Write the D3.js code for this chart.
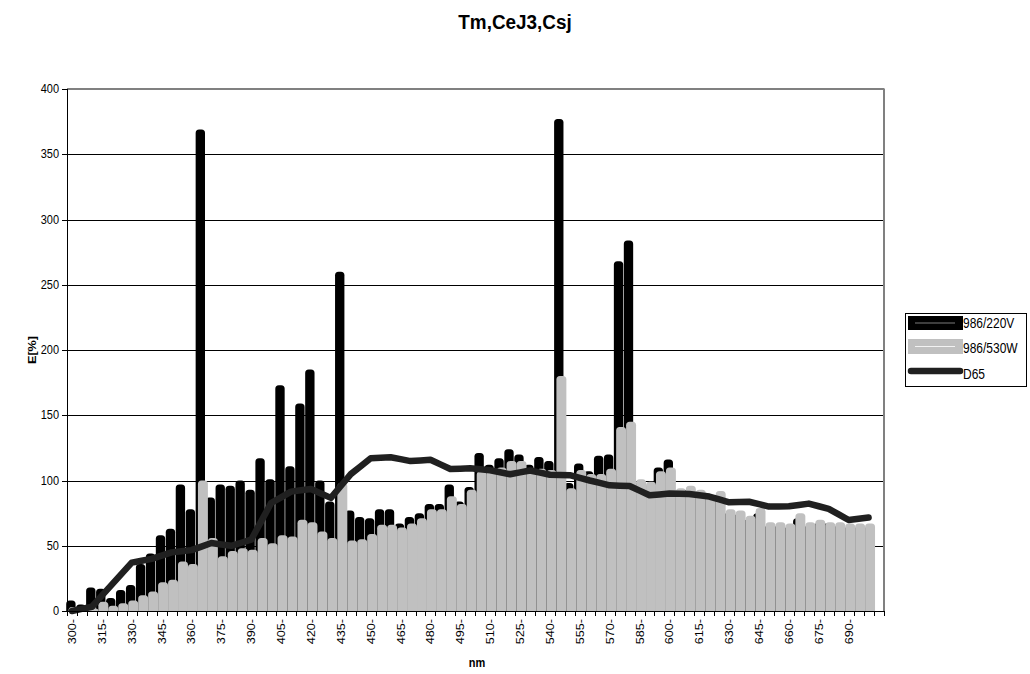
<!DOCTYPE html>
<html>
<head>
<meta charset="utf-8">
<script src="https://cdn.jsdelivr.net/npm/d3@7"></script>
<style>
  body { margin: 0; background: #fff; }
  svg { display: block; }
  text { font-family: "Liberation Sans", Arial, sans-serif; fill: #000; }
</style>
</head>
<body>
<svg id="chart" width="1030" height="674"></svg>
<script>
// Wavelength categories (nm), 5 nm steps; the last slot has no data.
const wavelengths = [300,305,310,315,320,325,330,335,340,345,350,355,360,365,370,375,380,385,390,395,
  400,405,410,415,420,425,430,435,440,445,450,455,460,465,470,475,480,485,490,495,
  500,505,510,515,520,525,530,535,540,545,550,555,560,565,570,575,580,585,590,595,
  600,605,610,615,620,625,630,635,640,645,650,655,660,665,670,675,680,685,690,695,700,705];

// Relative spectral power E[%] of lamp 986 at 220 V
const lamp220 = [8,5,18,17,10,16,20,36,44,58,63,97,78,369,87,97,96,100,93,117,
  101,173,111,159,185,100,84,260,77,72,71,78,78,67,72,75,82,82,97,84,
  95,121,112,117,124,120,112,118,115,377,98,113,107,119,120,268,284,98,96,110,
  116,91,93,90,86,88,75,74,70,75,65,65,64,71,65,67,67,65,64,64,64,null];

// Relative spectral power E[%] of lamp 986 at 530 W
const lamp530 = [3,3,2,7,4,6,8,12,15,22,24,38,36,100,56,42,46,48,47,56,
  52,58,57,70,68,61,56,98,54,55,59,66,66,64,67,71,78,78,88,82,
  93,107,108,110,115,115,109,109,108,180,94,108,105,105,109,141,145,101,99,107,
  110,94,96,93,88,92,78,77,73,79,68,68,67,75,68,70,68,68,67,67,67,null];

// CIE illuminant D65
const d65 = [0.03,1.66,3.29,11.77,20.24,28.64,37.05,38.50,39.95,42.43,44.91,45.78,46.64,49.36,52.09,51.03,49.98,52.31,54.65,68.70,
  82.75,87.12,91.49,92.46,93.43,90.06,86.68,95.77,104.86,110.94,117.01,117.41,117.81,116.34,114.86,115.39,115.92,112.37,108.81,109.08,
  109.35,108.58,107.80,106.30,104.79,106.24,107.69,106.05,104.41,104.23,104.05,102.02,100.00,98.17,96.33,96.06,95.79,92.24,88.69,89.35,
  90.01,89.80,89.60,88.65,87.70,85.49,83.29,83.49,83.70,81.86,80.03,80.12,80.21,81.25,82.28,80.28,78.28,74.00,69.72,70.67,71.61,null];

const xTickLabels = [300,315,330,345,360,375,390,405,420,435,450,465,480,495,510,525,540,555,570,585,600,615,630,645,660,675,690];
const yTickValues = [0,50,100,150,200,250,300,350,400];

const seriesNames = ["986/220V", "986/530W", "D65"];

const svg = d3.select("#chart");
const pL = 67, pR = 883.5, pT = 89, pB = 611;

const x = d3.scaleBand().domain(wavelengths).range([pL, pR]).padding(0);
const y = d3.scaleLinear().domain([0, 400]).range([pB, pT]);
const bw = x.bandwidth();

// Title
svg.append("text")
  .attr("transform", "translate(515,29) scale(1.05,1.1)")
  .attr("text-anchor", "middle")
  .style("font-weight", "bold").style("font-size", "18px")
  .text("Tm,CeJ3,Csj");

// Horizontal gridlines
svg.append("g").selectAll("line")
  .data(yTickValues.filter(v => v > 0 && v < 400))
  .join("line")
  .attr("x1", pL).attr("x2", pR)
  .attr("y1", d => Math.round(y(d)) + 0.5).attr("y2", d => Math.round(y(d)) + 0.5)
  .attr("stroke", "#000").attr("stroke-width", 1);

// Column with rounded top corners
function columnPath(x0, w, v) {
  const y0 = y(0), yv = y(v);
  const r = Math.min(3.5, w / 2, (y0 - yv));
  return `M${x0},${y0}V${yv + r}Q${x0},${yv} ${x0 + r},${yv}H${x0 + w - r}Q${x0 + w},${yv} ${x0 + w},${yv + r}V${y0}Z`;
}

const rows = wavelengths.map((w, i) => ({ w, a: lamp220[i], b: lamp530[i], d: d65[i] }));

// 986/220V columns (behind)
svg.append("g").selectAll("path")
  .data(rows.filter(r => r.a != null))
  .join("path")
  .attr("d", r => columnPath(x(r.w) - 0.8, bw * 0.94, r.a))
  .attr("fill", "#000");

// 986/530W columns (front)
svg.append("g").selectAll("path")
  .data(rows.filter(r => r.b != null))
  .join("path")
  .attr("d", r => columnPath(x(r.w) + 1.5, bw, r.b))
  .attr("fill", "#c0c0c0");

// D65 line
const line = d3.line()
  .defined(r => r.d != null)
  .x(r => x(r.w) + bw / 2)
  .y(r => y(r.d));
svg.append("path")
  .datum(rows)
  .attr("d", line)
  .attr("fill", "none")
  .attr("stroke", "#202020")
  .attr("stroke-width", 6.5)
  .attr("stroke-linejoin", "round")
  .attr("stroke-linecap", "round");

// Plot frame: grey top/right, black axes
svg.append("line").attr("x1", pL).attr("x2", pR + 1).attr("y1", pT).attr("y2", pT)
  .attr("stroke", "#808080").attr("stroke-width", 2);
svg.append("line").attr("x1", pR + 0.5).attr("x2", pR + 0.5).attr("y1", pT).attr("y2", pB)
  .attr("stroke", "#808080").attr("stroke-width", 2);
svg.append("line").attr("x1", pL + 0.5).attr("x2", pL + 0.5).attr("y1", pT).attr("y2", pB + 0.5)
  .attr("stroke", "#000").attr("stroke-width", 1);
svg.append("line").attr("x1", pL).attr("x2", pR + 1).attr("y1", pB + 0.5).attr("y2", pB + 0.5)
  .attr("stroke", "#000").attr("stroke-width", 1);

// Y axis ticks and labels
const yAxis = svg.append("g");
yAxis.selectAll("line").data(yTickValues).join("line")
  .attr("x1", pL - 5).attr("x2", pL)
  .attr("y1", d => Math.round(y(d)) + 0.5).attr("y2", d => Math.round(y(d)) + 0.5)
  .attr("stroke", "#000");
yAxis.selectAll("text").data(yTickValues).join("text")
  .attr("transform", d => `translate(59,${y(d) + 4}) scale(1,1.15)`)
  .attr("text-anchor", "end")
  .style("font-size", "11px")
  .text(d => d);

// X axis ticks at category boundaries
const boundaries = wavelengths.map(w => x(w)).concat([pR]);
svg.append("g").selectAll("line").data(boundaries).join("line")
  .attr("x1", d => Math.round(d) + 0.5).attr("x2", d => Math.round(d) + 0.5)
  .attr("y1", pB).attr("y2", pB + 5)
  .attr("stroke", "#000");

// X labels, rotated
svg.append("g").selectAll("text").data(xTickLabels).join("text")
  .attr("transform", d => `translate(${x(d) + bw / 2 + 4},619) rotate(-90) scale(1.15,1)`)
  .attr("text-anchor", "end")
  .style("font-size", "11px")
  .text(d => d + "-");

// Axis titles
svg.append("text")
  .attr("transform", "translate(36,350) rotate(-90) scale(1.15,1)")
  .attr("text-anchor", "middle")
  .style("font-weight", "bold").style("font-size", "11px")
  .text("E[%]");
svg.append("text")
  .attr("transform", "translate(477,667) scale(1,1.15)")
  .attr("text-anchor", "middle")
  .style("font-weight", "bold").style("font-size", "11px")
  .text("nm");

// Legend
const lg = svg.append("g");
lg.append("rect").attr("x", 905.5).attr("y", 313.5).attr("width", 121).attr("height", 73)
  .attr("fill", "#fff").attr("stroke", "#000").attr("stroke-width", 1);
lg.append("rect").attr("x", 908).attr("y", 316).attr("width", 55).attr("height", 14).attr("fill", "#000");
lg.append("line").attr("x1", 915).attr("x2", 955).attr("y1", 323).attr("y2", 323)
  .attr("stroke", "#9a9a9a").attr("stroke-width", 0.8);
lg.append("rect").attr("x", 908).attr("y", 339).attr("width", 55).attr("height", 15).attr("fill", "#c0c0c0");
lg.append("line").attr("x1", 915).attr("x2", 955).attr("y1", 346.5).attr("y2", 346.5)
  .attr("stroke", "#fff").attr("stroke-width", 0.8);
lg.append("line").attr("x1", 911).attr("x2", 960).attr("y1", 371).attr("y2", 371)
  .attr("stroke", "#202020").attr("stroke-width", 6.5).attr("stroke-linecap", "round");
lg.selectAll("text.lbl").data(seriesNames).join("text")
  .attr("class", "lbl")
  .attr("transform", (d, i) => `translate(963,${[328, 353, 379][i]}) scale(1,1.15)`)
  .style("font-size", "12px")
  .text(d => d);
</script>
</body>
</html>
